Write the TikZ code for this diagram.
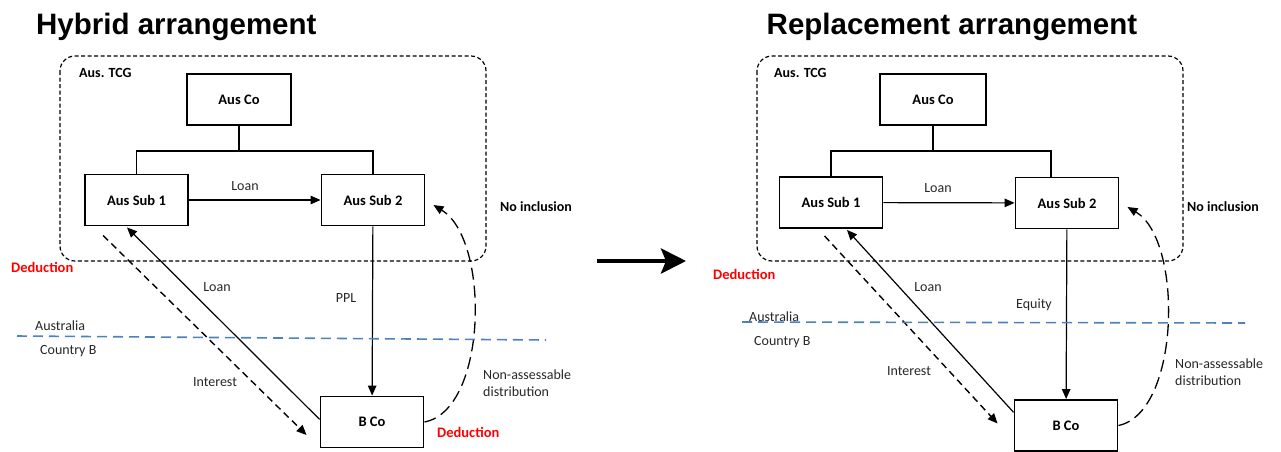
\documentclass[tikz,border=0pt]{standalone}
\usepackage{fontspec}
\setmainfont{Carlito}
\newfontfamily\titlefont{Liberation Sans}
\usetikzlibrary{arrows.meta,calc}
\definecolor{auline}{RGB}{79,129,189}
\definecolor{dedred}{RGB}{255,0,0}
\definecolor{lbltext}{RGB}{40,40,40}
\begin{document}
\begin{tikzpicture}[x=1pt,y=-1pt,
 box/.style={draw, line width=1.9pt, minimum width=103pt, minimum height=51pt, inner sep=0pt, font=\fontsize{14.5}{17}\selectfont\bfseries},
 lbl/.style={font=\fontsize{14}{17}\selectfont, text=lbltext, inner sep=0pt},
 blbl/.style={font=\fontsize{14}{17}\selectfont\bfseries, inner sep=0pt},
 tcg/.style={font=\fontsize{14}{16}\selectfont\bfseries, inner sep=0pt},
 ded/.style={font=\fontsize{14.5}{17}\selectfont\bfseries, text=dedred, inner sep=0pt},
 conn/.style={line width=1.2pt},
 tip/.style={-{Triangle[length=10pt,width=8.5pt]}},
 grp/.style={draw, line width=1.2pt, dash pattern=on 4pt off 2.5pt, rounded corners=15pt},
 border/.style={draw=auline, line width=1.6pt, dash pattern=on 10pt off 6pt},
 flow/.style={line width=1.4pt, dash pattern=on 7pt off 4.5pt},
 dist/.style={line width=1.3pt, dash pattern=on 12pt off 6pt},
 ttl/.style={font=\titlefont\fontsize{29.5}{34}\selectfont\bfseries, inner sep=0pt, anchor=base west},
]
\useasboundingbox[fill=white] (0,0) rectangle (1281,451);

% ================= LEFT: Hybrid arrangement =================
\node[ttl] (Ltitle) at (36,34) {Hybrid arrangement};
\draw[grp] (60,56) rectangle (486,261);
\node[tcg, anchor=west] (Ltcg) at (79,73) {Aus. TCG};

\node[box, minimum width=104pt] (Laco) at (239,99.5) {Aus Co};
\node[box] (Ls1) at (136.5,200) {Aus Sub 1};
\node[box] (Ls2) at (373,200) {Aus Sub 2};
\node[box] (Lb)  at (372,422) {B Co};

\coordinate (Lbar) at (239,151);
\draw[conn] (Laco.south) -- (Lbar);
\draw[conn] (Ls1.north) |- (Lbar) -| (Ls2.north);

\draw[conn,tip] (Ls1) -- (Ls2);
\node[lbl] (LloanA) at (245,186) {Loan};

\draw[conn,tip] ($(Lb.north west)!0.45!(Lb.south west)$) -- ($(Ls1.south)+(-9.5,1)$);
\node[lbl] (LloanB) at (217,287) {Loan};

\coordinate (Lis) at ($(Ls1.south west)+(19,9)$);
\coordinate (Lie) at ($(Lb.west)+(-13,13)$);
\draw[flow,tip] (Lis) -- (Lie);
\node[lbl] (Lint) at (215,382) {Interest};

\draw[conn,tip] (Ls2) -- (Lb);
\node[lbl] (Lppl) at (346,298) {PPL};

\draw[dist,tip] (Lb.east) .. controls +(63,-12) and +(57,35) .. ($(Ls2.east)+(8,5)$);

\coordinate (Lba) at (17,336);
\coordinate (Lbb) at (546,340);
\draw[border] (Lba) -- (Lbb);
\node[lbl, anchor=west] (Laus) at (35,326) {Australia};
\node[lbl, anchor=west] (Lcb) at (40,351) {Country B};

\node[blbl, anchor=west] (Lnoinc) at (500,207) {No inclusion};
\node[ded, anchor=west] (Lded1) at (11,267) {Deduction};
\node[ded, anchor=west] (Lded2) at (437,432) {Deduction};
\node[lbl, anchor=west, align=left] (Lnad) at (483,383.5) {Non-assessable\\distribution};

% ================= middle arrow =================
\coordinate (mA) at (597,261);
\coordinate (mB) at (686,261);
\draw[line width=4.5pt, -{Stealth[length=25pt,width=25pt,inset=5pt]}] (mA) -- (mB);

% ================= RIGHT: Replacement arrangement =================
\node[ttl] (Rtitle) at (766.5,34) {Replacement arrangement};
\draw[grp] (757,56) rectangle (1183,261);
\node[tcg, anchor=west] (Rtcg) at (774,73) {Aus. TCG};

\node[box, minimum width=106pt] (Raco) at (933,99.5) {Aus Co};
\node[box] (Rs1) at (831,202.5) {Aus Sub 1};
\node[box] (Rs2) at (1067,203) {Aus Sub 2};
\node[box] (Rb)  at (1066,425.5) {B Co};

\coordinate (Rbar) at (933,151);
\coordinate (Rdrop) at (1051,151);
\draw[conn] (Raco.south) -- (Rbar);
\draw[conn] (Rs1.north) |- (Rbar) -- (Rdrop) -- (Rdrop |- Rs2.north);

\draw[conn,tip] (Rs1) -- (Rs2);
\node[lbl] (RloanA) at (938,188) {Loan};

\draw[conn,tip] ($(Rb.north west)!0.25!(Rb.south west)$) -- ($(Rs1.south)+(16,1)$);
\node[lbl] (RloanB) at (928,287) {Loan};

\coordinate (Ris) at ($(Rs1.south west)+(46,7)$);
\coordinate (Rie) at ($(Rb.west)+(-16,-2)$);
\draw[flow,tip] (Ris) -- (Rie);
\node[lbl] (Rint) at (909,371) {Interest};

\draw[conn,tip] (Rs2) -- (Rb);
\node[lbl] (Requity) at (1034,305) {Equity};

\draw[dist,tip] (Rb.east) .. controls +(62,-13) and +(56,33) .. ($(Rs2.east)+(8,4)$);

\coordinate (Rba) at (742,322);
\coordinate (Rbb) at (1245,323);
\draw[border] (Rba) -- (Rbb);
\node[lbl, anchor=west] (Raus) at (749,317) {Australia};
\node[lbl, anchor=west] (Rcb) at (754,342) {Country B};

\node[blbl, anchor=west] (Rnoinc) at (1187,207) {No inclusion};
\node[ded, anchor=west] (Rded) at (713,274) {Deduction};
\node[lbl, anchor=west, align=left] (Rnad) at (1175,372.5) {Non-assessable\\distribution};
\end{tikzpicture}
\end{document}
